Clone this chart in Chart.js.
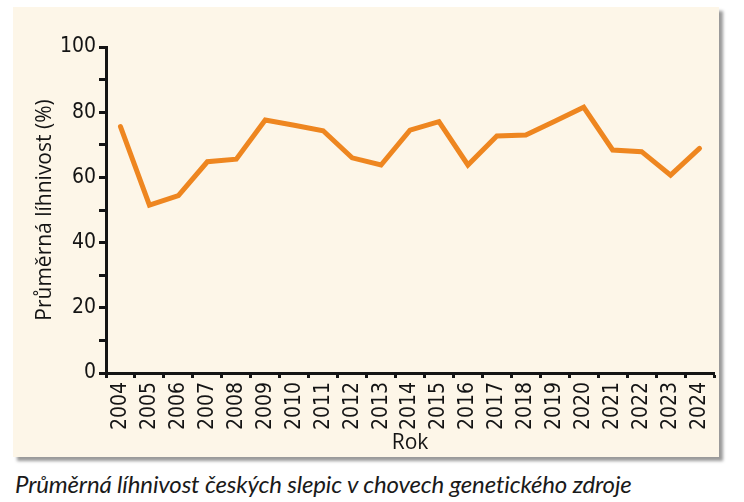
<!DOCTYPE html>
<html>
<head>
<meta charset="utf-8">
<script src="https://cdn.jsdelivr.net/npm/chart.js@4"></script>
<style>
  html, body { margin: 0; padding: 0; background: #ffffff; width: 744px; height: 502px; overflow: hidden; }
  #panel {
    position: absolute; left: 13px; top: 7px; width: 706px; height: 450px;
    background: #fdf6e8; box-shadow: 4px 4px 3px #9a9a9a;
  }
  #caption {
    position: absolute; left: 15px; top: 469px;
    font-family: Lato, "Open Sans", sans-serif; font-style: italic; font-size: 24px;
    color: #1a1a1a; white-space: nowrap; letter-spacing: -0.15px;
  }
</style>
</head>
<body>
<div id="panel"><canvas id="chart" width="706" height="450"></canvas></div>
<div id="caption">Průměrná líhnivost českých slepic v chovech genetického zdroje</div>
<script>
// ── Data ──────────────────────────────────────────────────────────────────
const years = ['2004', '2005', '2006', '2007', '2008', '2009', '2010', '2011', '2012', '2013', '2014',
               '2015', '2016', '2017', '2018', '2019', '2020', '2021', '2022', '2023', '2024'];
const hatchRate = [75.6, 51.5, 54.4, 64.8, 65.6, 77.6, 76.0, 74.3, 66.0, 63.8, 74.5,
                   77.1, 63.8, 72.7, 73.0, 77.2, 81.5, 68.4, 67.9, 60.7, 68.9];
const yTicks = [0, 20, 40, 60, 80, 100];

const INK       = '#141414';
const ORANGE    = '#ee8620';
const TICKFONT  = { family: '"Liberation Sans Narrow", "DejaVu Sans Condensed", sans-serif', size: 21 };
const TITLEFONT = { family: '"Open Sans", Lato, sans-serif', size: 21 };

// ── Chart ─────────────────────────────────────────────────────────────────
new Chart(document.getElementById('chart').getContext('2d'), {
    type: 'line',
    data: {
        labels: years,
        datasets: [{
            label: 'Průměrná líhnivost (%)',
            data: hatchRate,
            borderColor: ORANGE,
            backgroundColor: 'transparent',
            borderWidth: 5,
            tension: 0,
            pointRadius: 0,
            borderJoinStyle: 'miter',
            borderCapStyle: 'round'
        }]
    },
    options: {
        responsive: false,
        animation: false,
        layout: { padding: { top: 40, right: 5, left: 0, bottom: 0 } },
        plugins: { legend: { display: false }, tooltip: { enabled: false } },
        scales: {
            x: {
                type: 'category',
                offset: true,
                grid: { display: true, drawOnChartArea: false, offset: true,
                        tickLength: 5, tickWidth: 3, tickColor: INK },
                border: { display: true, color: INK, width: 3 },
                ticks: { minRotation: 90, maxRotation: 90, autoSkip: false,
                         color: INK, font: TICKFONT, padding: 4 },
                title: { display: true, text: 'Rok', color: INK, font: TITLEFONT,
                         padding: { top: 0, bottom: 1 } },
                afterFit: s => { s.height = 84; s.paddingLeft = 0; s.paddingRight = 0; }
            },
            y: {
                min: 0,
                max: 100,
                grid: { display: true, drawOnChartArea: false,
                        tickLength: 7, tickWidth: 3, tickColor: INK },
                border: { display: true, color: INK, width: 3 },
                ticks: { stepSize: 10, color: INK, font: TICKFONT, padding: 3,
                         callback: v => yTicks.includes(v) ? String(v) : '' },
                title: { display: true, text: 'Průměrná líhnivost (%)', color: INK, font: TITLEFONT,
                         padding: { top: 19, bottom: 0 } },
                afterFit: s => { s.width = 93; s.paddingTop = 0; s.paddingBottom = 0; }
            }
        }
    }
});
</script>
</body>
</html>
